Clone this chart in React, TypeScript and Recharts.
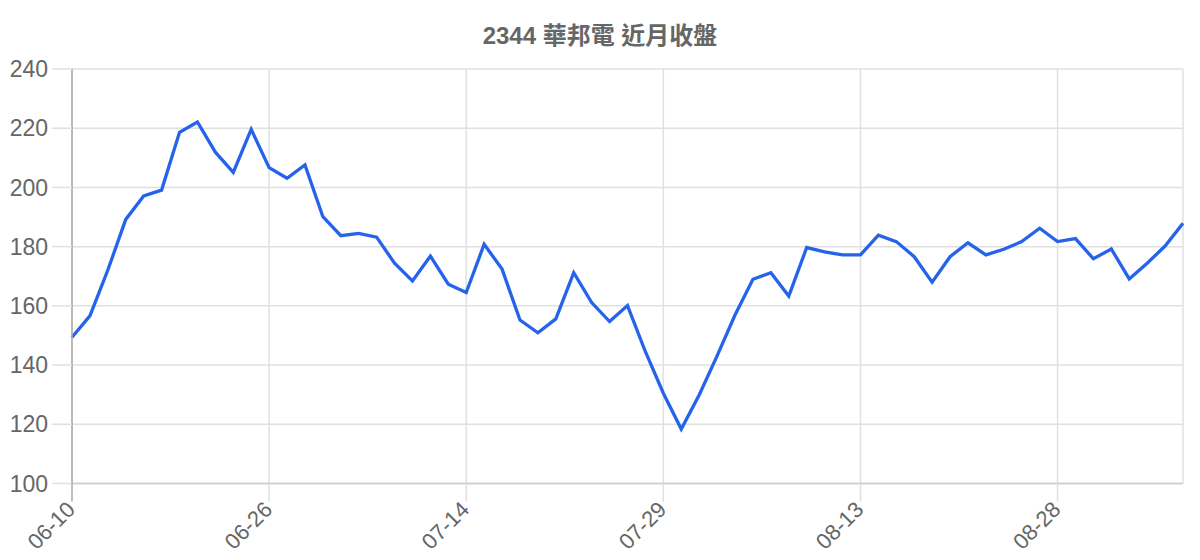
import React from 'react';
import { LineChart, Line, XAxis, YAxis, CartesianGrid } from 'recharts';

// trading days shown on the x axis (MM-DD)
const dates = [
  '06-10', '06-11', '06-12', '06-13', '06-16', '06-17', '06-18', '06-19', '06-23', '06-24',
  '06-25', '06-26', '06-27', '06-30', '07-01', '07-02', '07-03', '07-04', '07-08', '07-09',
  '07-10', '07-11', '07-14', '07-15', '07-16', '07-17', '07-18', '07-21', '07-22', '07-23',
  '07-24', '07-25', '07-28', '07-29', '07-30', '07-31', '08-01', '08-04', '08-05', '08-06',
  '08-07', '08-08', '08-11', '08-12', '08-13', '08-14', '08-15', '08-18', '08-19', '08-20',
  '08-21', '08-22', '08-25', '08-26', '08-27', '08-28', '08-29', '09-01', '09-02', '09-03',
  '09-04', '09-05', '09-08',
];

// closing prices
const closes = [
  149.4, 156.6, 172.1, 189.2, 197.1, 199.1, 218.6, 222.1, 211.9, 205.1,
  219.6, 206.7, 203.1, 207.6, 190.1, 183.7, 184.5, 183.2, 174.4, 168.4,
  176.8, 167.3, 164.5, 180.8, 172.4, 155.2, 150.9, 155.6, 171.2, 161.1,
  154.7, 160.1, 144.5, 130.5, 118.4, 129.9, 143.1, 156.9, 169.0, 171.2,
  163.3, 179.7, 178.2, 177.2, 177.2, 183.9, 181.7, 176.6, 168.0, 176.6,
  181.3, 177.2, 179.1, 181.7, 186.2, 181.7, 182.7, 175.9, 179.2, 169.1,
  174.4, 180.2, 187.9,
];

const xTicks = ['06-10', '06-26', '07-14', '07-29', '08-13', '08-28'];
const yTicks = [100, 120, 140, 160, 180, 200, 220, 240];

const title = '2344 華邦電 近月收盤';

const data = dates.map((d, i) => ({ date: d, close: closes[i] }));

const FONT = '"Liberation Sans", Arial, "Noto Sans CJK TC", sans-serif';

const DateTick = (props: any) => {
  const { x, y, payload, index } = props;
  return (
    <g>
      <line x1={x} y1={y - 18} x2={x} y2={y} stroke={index === 0 ? '#aaaaaa' : '#e0e0e0'} strokeWidth={1.5} />
      <text
        x={x - 1}
        y={y + 4}
        dy="0.35em"
        textAnchor="end"
        transform={`rotate(-45, ${x - 1}, ${y + 4})`}
        fill="#666666"
        fontSize={22}
        fontFamily={FONT}
      >
        {payload.value}
      </text>
    </g>
  );
};

const App: React.FC = () => {
  return (
    <div style={{ position: 'relative', width: 1184, height: 544 }}>
      <div
        style={{
          position: 'absolute',
          top: 16,
          left: 0,
          width: 1184,
          textAlign: 'center',
          fontFamily: FONT,
          fontWeight: 'bold',
          fontSize: 24,
          lineHeight: '24px',
          color: '#666666',
        }}
      >
        {title}
      </div>
      <LineChart
        width={1184}
        height={544}
        data={data}
        margin={{ top: 61, right: 9, left: 0, bottom: 0 }}
      >
        <CartesianGrid stroke="#e0e0e0" strokeWidth={1.5} />
        <XAxis
          dataKey="date"
          ticks={xTicks}
          interval={0}
          height={68.5}
          tickSize={18}
          tickMargin={0}
          tickLine={false}
          axisLine={{ stroke: '#cccccc', strokeWidth: 1.5 }}
          tick={<DateTick />}
        />
        <YAxis
          domain={[100, 240]}
          ticks={yTicks}
          width={64}
          tickSize={20}
          tickMargin={4}
          tickLine={{ stroke: '#e0e0e0', strokeWidth: 1.5 }}
          axisLine={{ stroke: '#aaaaaa', strokeWidth: 1.5 }}
          tick={{ fill: '#666666', fontSize: 23, fontFamily: FONT }}
        />
        <Line
          type="linear"
          dataKey="close"
          stroke="#2563eb"
          strokeWidth={3.3}
          dot={false}
          isAnimationActive={false}
        />
      </LineChart>
    </div>
  );
};

export default App;
